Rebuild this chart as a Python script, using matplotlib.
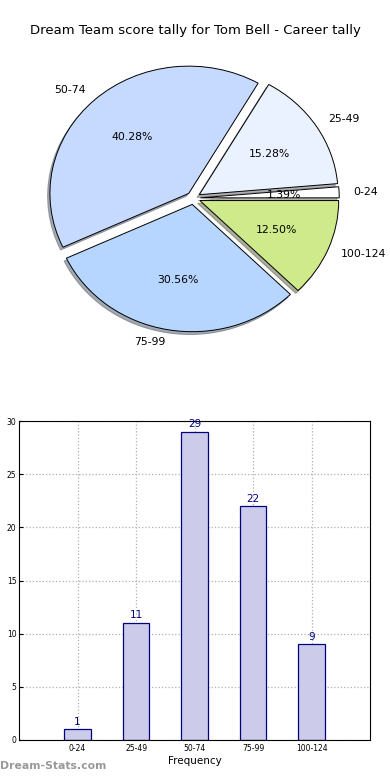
import matplotlib
matplotlib.use("Agg")
import matplotlib.pyplot as plt

categories = ["0-24", "25-49", "50-74", "75-99", "100-124"]
counts = [1, 11, 29, 22, 9]
pie_colors = ["#ffffff", "#eaf1ff", "#c6d9ff", "#b6d5ff", "#ceea8a"]

fig = plt.figure(figsize=(3.9, 7.8), dpi=100)
fig.text(0.5, 0.961, "Dream Team score tally for Tom Bell - Career tally",
         ha="center", va="center", fontsize=9.5)

# ── Pie ──────────────────────────────────────────────────────────────────────
ax1 = fig.add_axes([0.051, 0.542, 0.89, 0.408])
wedges, texts, autotexts = ax1.pie(
    counts, labels=categories, colors=pie_colors, autopct="%.2f%%",
    explode=[0.05] * len(counts),
    shadow={"ox": -0.012, "oy": -0.016, "shade": 0.6}, startangle=0,
    wedgeprops=dict(edgecolor="black", linewidth=0.7),
    textprops=dict(fontsize=7.8),
)
ax1.set_aspect("auto")
ax1.set_xlim(-1.25, 1.25)
ax1.set_ylim(-1.25, 1.25)

# ── Bars ─────────────────────────────────────────────────────────────────────
ax2 = fig.add_axes([0.049, 0.0513, 0.9, 0.4087])
x = range(len(categories))
ax2.bar(x, counts, width=0.45, color="#ccccea", edgecolor="#000080", linewidth=0.9,
        zorder=2)
for xi, v in zip(x, counts):
    ax2.text(xi, v + 0.25, str(v), ha="center", va="bottom", fontsize=7.5,
             color="#000080", zorder=3)
ax2.set_xlim(-1, 5)
ax2.set_ylim(0, 30)
ax2.set_xticks(list(x))
ax2.set_xticklabels(categories, fontsize=5.5)
ax2.set_yticks(range(0, 31, 5))
ax2.tick_params(axis="y", labelsize=5.5, direction="in", length=3, pad=2)
ax2.tick_params(axis="x", direction="in", length=3, pad=3)
ax2.grid(True, linestyle=":", color="#b0b0b0", linewidth=0.9, zorder=0)
ax2.set_axisbelow(True)
ax2.set_xlabel("Frequency", fontsize=7.5, labelpad=2)
ax2.set_ylabel("Score Interval", fontsize=7.5, labelpad=6)

fig.text(0.0, 0.011, "Dream-Stats.com", fontsize=7.8, color="#999999",
         fontweight="bold", ha="left", va="bottom")

fig.savefig("out.png", dpi=100)
